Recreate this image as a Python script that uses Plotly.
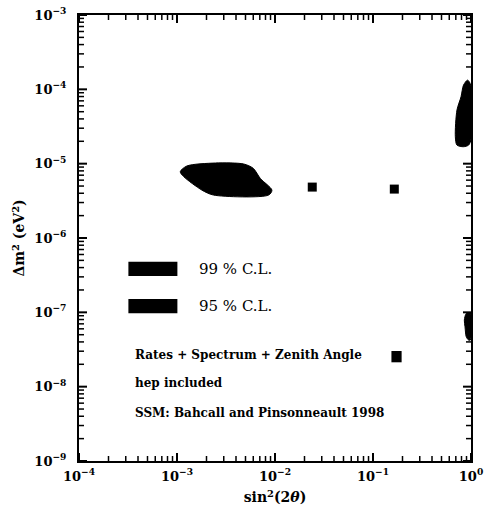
import math
import plotly.graph_objects as go

# ---- data ----
# large allowed region, sin^2(2theta) and dm^2 (eV^2)
sma_sin2 = [1.08e-3, 1.26e-3, 2.46e-3, 4.79e-3, 6.0e-3, 7.1e-3, 9.3e-3, 8.6e-3, 2.36e-3, 1.80e-3, 1.17e-3]
sma_dm2 = [7.8e-6, 9.3e-6, 1.02e-5, 9.9e-6, 8.65e-6, 6.3e-6, 4.4e-6, 3.78e-6, 3.78e-6, 4.4e-6, 6.7e-6]

# large-angle region near maximal mixing
lma_sin2 = [0.923, 0.839, 0.791, 0.719, 0.692, 0.719, 0.839, 0.946, 0.995, 0.995]
lma_dm2 = [1.33e-4, 1.14e-4, 7.94e-5, 5.26e-5, 2.30e-5, 1.78e-5, 1.69e-5, 1.78e-5, 2.08e-5, 1.14e-4]

# low dm^2 region near maximal mixing
low_sin2 = [0.895, 0.984, 0.984, 0.946, 0.895, 0.869, 0.855]
low_dm2 = [9.66e-8, 9.84e-8, 4.23e-8, 4.23e-8, 4.68e-8, 6.38e-8, 7.85e-8]

# best-fit points
best_sin2 = [0.0240, 0.165]
best_dm2 = [4.84e-6, 4.55e-6]

x_tickvals = [1e-4, 1e-3, 1e-2, 1e-1, 1]
x_ticktext = ["10<sup>−4</sup>", "10<sup>−3</sup>", "10<sup>−2</sup>", "10<sup>−1</sup>", "10<sup>0</sup>"]
y_tickvals = [1e-9, 1e-8, 1e-7, 1e-6, 1e-5, 1e-4, 1e-3]
y_ticktext = ["10<sup>−9</sup>", "10<sup>−8</sup>", "10<sup>−7</sup>", "10<sup>−6</sup>",
              "10<sup>−5</sup>", "10<sup>−4</sup>", "10<sup>−3</sup>"]

legend_labels = ["99 % C.L.", "95 % C.L."]
info_lines = ["Rates + Spectrum + Zenith Angle", "hep included",
              "SSM: Bahcall and Pinsonneault 1998"]

SERIF = "DejaVu Serif"
X_RANGE = [-4, 0]
Y_RANGE = [-9, -3]
PLOT_W, PLOT_H = 392, 446


def minor_ticks(decades):
    return [m * d for d in decades[:-1] for m in range(2, 10)]


def frac(v, rng):
    return (math.log10(v) - rng[0]) / (rng[1] - rng[0])


fig = go.Figure()
for xs, ys in [(sma_sin2, sma_dm2), (lma_sin2, lma_dm2), (low_sin2, low_dm2)]:
    fig.add_trace(go.Scatter(
        x=xs + [xs[0]], y=ys + [ys[0]], mode="lines", fill="toself",
        fillcolor="black", line=dict(color="black", width=1, shape="spline", smoothing=0.8),
        showlegend=False, hoverinfo="skip"))

fig.add_trace(go.Scatter(
    x=best_sin2, y=best_dm2, mode="markers",
    marker=dict(symbol="square", size=9, color="black"),
    showlegend=False, hoverinfo="skip"))

axis_common = dict(
    type="log", showgrid=False, zeroline=False, automargin=False,
    showline=True, linecolor="black", linewidth=2, mirror=True,
    ticks="outside", tickcolor="rgba(0,0,0,0)", ticklabeloverflow="allow",
)

fig.update_layout(
    width=485, height=509,
    margin=dict(l=79, r=14, t=15, b=48),
    paper_bgcolor="white", plot_bgcolor="white",
    xaxis=dict(range=X_RANGE, tickmode="array", tickvals=x_tickvals, ticktext=x_ticktext,
               ticklen=2,
               tickfont=dict(family=SERIF, size=13, color="black", weight="bold"),
               title=dict(text="sin<sup>2</sup>(2<i>θ</i>)", standoff=10,
                          font=dict(family=SERIF, size=14, color="black", weight="bold")),
               **axis_common),
    yaxis=dict(range=Y_RANGE, tickmode="array", tickvals=y_tickvals, ticktext=y_ticktext,
               ticklen=8,
               tickfont=dict(family=SERIF, size=13, color="black", weight="bold"),
               title=dict(text="Δm<sup>2</sup> (eV<sup>2</sup>)", standoff=6,
                          font=dict(family=SERIF, size=14, color="black", weight="bold")),
               **axis_common),
)

# inside tick marks on all four sides, drawn as small filled bars (plot-fraction units)
x_specs = [(v, 8, 2.0) for v in x_tickvals] + [(v, 5, 1.5) for v in minor_ticks(x_tickvals)]
for v, ln, w in x_specs:
    f = frac(v, X_RANGE)
    hw = w / 2 / PLOT_W
    for y0, y1 in [(0, ln / PLOT_H), (1 - ln / PLOT_H, 1)]:
        fig.add_shape(type="rect", xref="paper", yref="paper",
                      x0=max(f - hw, 0), x1=min(f + hw, 1), y0=y0, y1=y1,
                      fillcolor="black", line=dict(width=0), layer="above")
y_specs = [(v, 8, 2.0) for v in y_tickvals] + [(v, 5, 1.5) for v in minor_ticks(y_tickvals)]
for v, ln, w in y_specs:
    f = frac(v, Y_RANGE)
    hh = w / 2 / PLOT_H
    for x0, x1 in [(0, ln / PLOT_W), (1 - ln / PLOT_W, 1)]:
        fig.add_shape(type="rect", xref="paper", yref="paper",
                      x0=x0, x1=x1, y0=max(f - hh, 0), y1=min(f + hh, 1),
                      fillcolor="black", line=dict(width=0), layer="above")

# legend decorations (paper coordinates)
leg_y = [(0.4148, 0.4469), (0.3312, 0.3632)]
for (y0, y1), lab in zip(leg_y, legend_labels):
    fig.add_shape(type="rect", xref="paper", yref="paper", x0=0.126, x1=0.251, y0=y0, y1=y1,
                  fillcolor="black", line=dict(width=0))
    fig.add_annotation(xref="paper", yref="paper", x=0.300, y=(y0 + y1) / 2, text=lab,
                       showarrow=False, xanchor="left", yanchor="middle",
                       font=dict(family=SERIF, size=15, color="black"))

for yy, line in zip([0.2377, 0.1742, 0.107], info_lines):
    fig.add_annotation(xref="paper", yref="paper", x=0.1385, y=yy, text=line,
                       showarrow=False, xanchor="left", yanchor="middle",
                       font=dict(family=SERIF, size=12, color="black", weight="bold"))

fig.add_shape(type="rect", xref="paper", yref="paper", x0=0.797, x1=0.823, y0=0.2213, y1=0.2466,
              fillcolor="black", line=dict(width=0))

page_css = ("document.body.style.margin='0';"
            "document.body.style.overflow='hidden';"
            "document.documentElement.style.overflow='hidden';")
fig.write_html("out.html", post_script=page_css, config={"displayModeBar": False})
